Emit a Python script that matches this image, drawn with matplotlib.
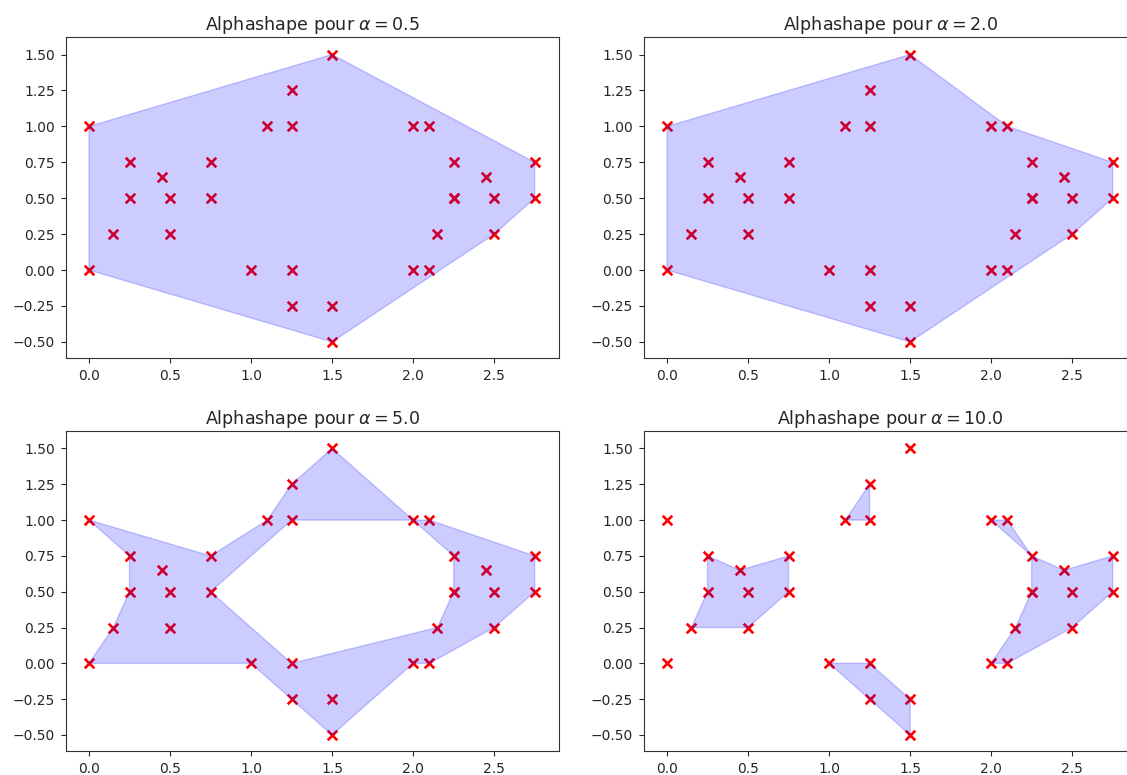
import matplotlib
matplotlib.use("Agg")
import matplotlib.pyplot as plt
from matplotlib.path import Path
from matplotlib.patches import PathPatch
import numpy as np

# Point cloud (x, y); (2.25, 0.5) appears twice
pts_x = [0.0, 0.0, 0.15, 0.25, 0.25, 0.45, 0.5, 0.5, 0.75, 0.75,
         1.0, 1.1, 1.25, 1.25, 1.25, 1.25, 1.5, 1.5, 1.5,
         2.0, 2.1, 2.0, 2.1, 2.15, 2.25, 2.25, 2.25, 2.45, 2.5, 2.5, 2.75, 2.75]
pts_y = [1.0, 0.0, 0.25, 0.75, 0.5, 0.65, 0.5, 0.25, 0.75, 0.5,
         0.0, 1.0, 1.25, 1.0, 0.0, -0.25, 1.5, -0.25, -0.5,
         1.0, 1.0, 0.0, 0.0, 0.25, 0.75, 0.5, 0.5, 0.65, 0.5, 0.25, 0.75, 0.5]

alphas = [0.5, 2.0, 5.0, 10.0]

# Alpha-shape outlines: each shape is a list of polygons,
# each polygon is (exterior ring, [interior rings])
shape_05 = [([(0, 0), (1.5, -0.5), (2.5, 0.25), (2.75, 0.5), (2.75, 0.75),
              (1.5, 1.5), (0, 1)], [])]

shape_2 = [([(0, 0), (1.5, -0.5), (2.5, 0.25), (2.75, 0.5), (2.75, 0.75),
             (2.1, 1.0), (1.5, 1.5), (0, 1)], [])]

shape_5 = [([(0, 1), (0.25, 0.75), (0.25, 0.5), (0.15, 0.25), (0, 0), (1.0, 0.0),
             (1.25, -0.25), (1.5, -0.5), (2.0, 0.0), (2.1, 0.0), (2.5, 0.25),
             (2.75, 0.5), (2.75, 0.75), (2.1, 1.0), (2.0, 1.0), (1.5, 1.5),
             (1.25, 1.25), (1.1, 1.0), (0.75, 0.75)],
            [[(0.75, 0.5), (1.25, 0.0), (2.15, 0.25), (2.25, 0.5), (2.25, 0.75),
              (2.0, 1.0), (1.25, 1.0)]])]

shape_10 = [
    ([(0.25, 0.75), (0.25, 0.5), (0.15, 0.25), (0.5, 0.25), (0.75, 0.5),
      (0.75, 0.75), (0.45, 0.65)], []),
    ([(1.1, 1.0), (1.25, 1.25), (1.25, 1.0)], []),
    ([(1.0, 0.0), (1.25, 0.0), (1.5, -0.25), (1.5, -0.5), (1.25, -0.25)], []),
    ([(2.0, 1.0), (2.1, 1.0), (2.25, 0.75), (2.45, 0.65), (2.75, 0.75),
      (2.75, 0.5), (2.5, 0.25), (2.1, 0.0), (2.0, 0.0), (2.15, 0.25),
      (2.25, 0.5), (2.25, 0.75)], []),
]

shapes = [shape_05, shape_2, shape_5, shape_10]


def ring_signed_area(ring):
    r = np.asarray(ring, dtype=float)
    x, y = r[:, 0], r[:, 1]
    return 0.5 * np.sum(x * np.roll(y, -1) - np.roll(x, -1) * y)


def oriented(ring, ccw):
    ring = list(ring)
    if (ring_signed_area(ring) > 0) != ccw:
        ring = ring[::-1]
    return ring


def polygon_path(exterior, holes):
    verts, codes = [], []
    for ring, ccw in [(exterior, True)] + [(h, False) for h in holes]:
        ring = oriented(ring, ccw)
        verts += ring + [ring[0]]
        codes += [Path.MOVETO] + [Path.LINETO] * (len(ring) - 1) + [Path.CLOSEPOLY]
    return Path(verts, codes)


W, H = 1127, 775
fig = plt.figure(figsize=(W / 100, H / 100), dpi=100)

# axes boxes in pixels: left, top, right, bottom
boxes = [(66, 37, 559, 358), (644, 37, 1137, 358),
         (66, 431, 559, 751), (644, 431, 1137, 751)]

for (l, t, r, b), a, shape in zip(boxes, alphas, shapes):
    ax = fig.add_axes([l / W, 1 - b / H, (r - l) / W, (b - t) / H])
    ax.scatter(pts_x, pts_y, marker='x', color='red', s=48, linewidths=1.9)
    for ext, holes in shape:
        ax.add_patch(PathPatch(polygon_path(ext, holes), facecolor='blue',
                               edgecolor='blue', alpha=0.2))
    ax.set_xlim(-0.142, 2.90)
    ax.set_ylim(-0.612, 1.622)
    ax.tick_params(labelsize=10, pad=4.5, colors='#262626', labelcolor='#262626')
    for sp in ax.spines.values():
        sp.set_color('#333333')
    ax.set_title(r'Alphashape pour $\alpha = %s$' % a, fontsize=12.6,
                 color='#262626', pad=5)

fig.savefig('out.png', dpi=100)
